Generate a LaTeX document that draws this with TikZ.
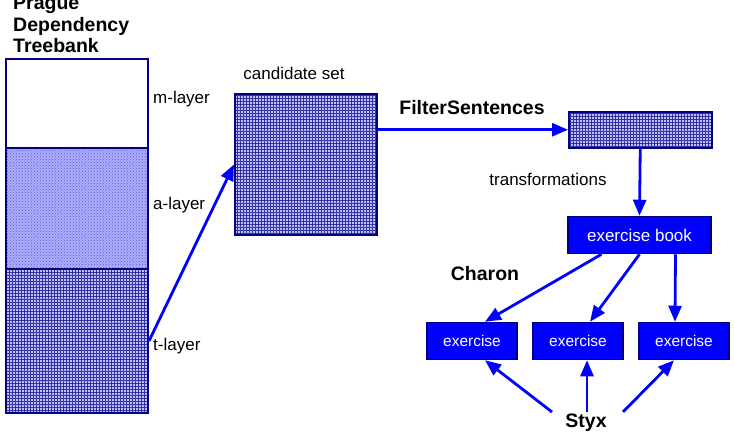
\documentclass[tikz,border=0pt]{standalone}
\usepackage{fontspec}
\setmainfont{Liberation Sans}
\usetikzlibrary{arrows.meta,patterns,positioning}
\definecolor{navy}{RGB}{0,0,128}
\definecolor{gridblue}{RGB}{50,50,160}
\definecolor{dotblue}{RGB}{90,90,200}
\tikzset{
  layer/.style={draw=navy, line width=2pt, minimum width=142pt, inner sep=0pt, anchor=north west},
  dotted layer/.style={layer, preaction={fill=blue!32!white}, pattern=crosshatch dots, pattern color=dotblue},
  grid layer/.style={layer, preaction={fill=blue!25!white}, pattern=grid, pattern color=gridblue},
  exbox/.style={draw=navy, line width=1.5pt, fill=blue, text=white, font=\fontsize{15.5}{15.5}\selectfont, inner sep=0pt},
  lbl/.style={font=\fontsize{17}{17}\selectfont, inner sep=0pt},
  bold lbl/.style={font=\fontsize{19.5}{21.5}\selectfont\bfseries, inner sep=0pt},
  flow/.style={draw=blue, line width=2.8pt, -{Triangle[length=16pt,width=13pt]}}
}
\begin{document}
\begin{tikzpicture}[x=1pt, y=-1pt]
  \useasboundingbox (0,0) rectangle (734,440);
  % treebank with its three layers
  \node[bold lbl, align=left, anchor=south west] (ptb) at (13,53) {Prague\\Dependency\\Treebank};
  \node[layer, minimum height=89pt] (m) at (5,58) {};
  \node[dotted layer, minimum height=121pt] (a) at (5,147) {};
  \node[grid layer, minimum height=144pt] (t) at (5,268) {};
  \node[lbl, anchor=west] (ml) at (153,99) {m-layer};
  \node[lbl, anchor=west] (al) at (153,205) {a-layer};
  \node[lbl, anchor=west] (tl) at (153,346) {t-layer};
  % candidate set and filtered sentences
  \node[grid layer, minimum width=142pt, minimum height=141pt] (cand) at (234,93) {};
  \node[lbl] (candl) at (294,73) {candidate set};
  \node[grid layer, line width=1.5pt, minimum width=143pt, minimum height=36pt] (filt) at (568,111) {};
  \node[bold lbl] (filtl) at (472,108) {FilterSentences};
  \node[lbl] (trl) at (548,179) {transformations};
  % exercise book and exercises
  \node[exbox, font=\fontsize{17}{17}\selectfont, minimum width=143pt, minimum height=37pt] (book) at (639.5,235) {exercise book};
  \foreach \n/\x in {1/472,2/578,3/684}
    \node[exbox, minimum width=90pt, minimum height=37pt] (ex\n) at (\x,341) {exercise};
  \node[bold lbl] (charon) at (485,274) {Charon};
  \node[bold lbl, inner sep=2pt] (styx) at (586,423) {Styx};
  % connectors
  \draw[flow] (t.east) -- (cand.west);
  \draw[flow] (filt.west -| cand.east) -- (filt.west);
  \draw[flow] (filt.south) -- (book.north);
  \draw[flow] ([xshift=-38pt]book.south) -- ([xshift=13pt]ex1.north);
  \draw[flow] ([xshift=0pt]book.south) -- ([xshift=12pt]ex2.north);
  \draw[flow] ([xshift=36pt]book.south) -- ([xshift=-9pt]ex3.north);
  \draw[flow] ([xshift=-34pt]styx.north) -- ([xshift=13pt]ex1.south);
  \draw[flow] ([xshift=1pt]styx.north) -- ([xshift=9pt]ex2.south);
  \draw[flow] ([xshift=37pt]styx.north) -- ([xshift=-10pt]ex3.south);
\end{tikzpicture}
\end{document}
